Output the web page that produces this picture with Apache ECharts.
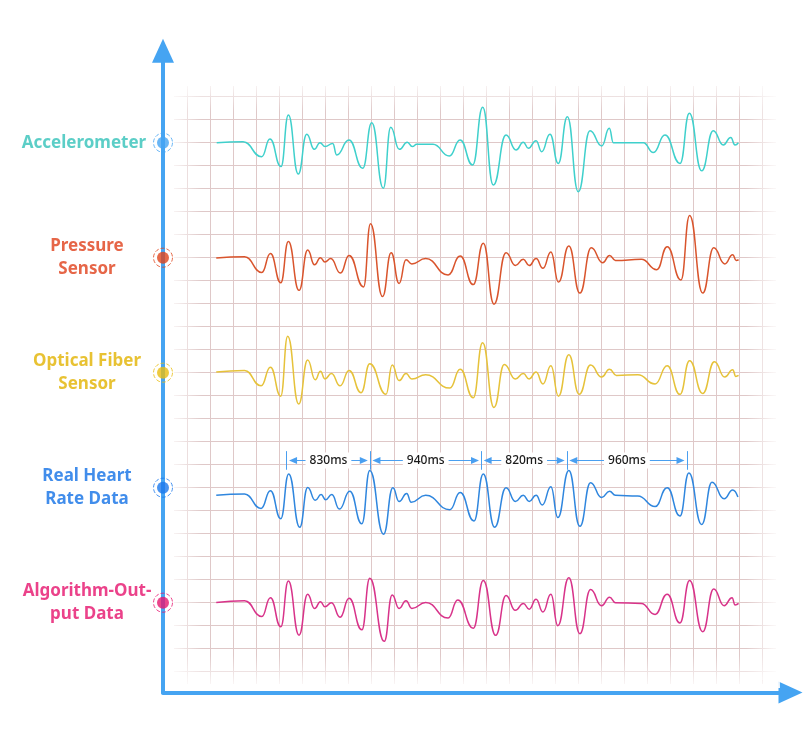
<!DOCTYPE html>
<html>
<head>
<meta charset="utf-8">
<title>Heart rate signal comparison</title>
<script src="https://cdn.jsdelivr.net/npm/echarts@6/dist/echarts.min.js"></script>
<style>
  html, body { margin: 0; padding: 0; background: #ffffff; }
  #chart { width: 806px; height: 742px; }
</style>
</head>
<body>
<div id="chart"></div>
<script>
// lane titles, top to bottom (line breaks as in the figure)
const laneNames = ['Accelerometer', 'Pressure\nSensor', 'Optical Fiber\nSensor', 'Real Heart\nRate Data', 'Algorithm-Out-\nput Data']

// [time ms, amplitude] - amplitude in 1/100 grid square, relative to the lane line
const accelerometer = [
  [254, 0], [483, 4], [645, -61], [717, 16], [813, -104], [877, 120], [963, -136], [1037, 37], [1103, -29],
  [1152, 0], [1196, -17], [1263, -3], [1297, -53], [1404, 12], [1524, -111], [1602, 87], [1703, -198],
  [1767, 67], [1842, -29], [1911, 2], [1955, -17], [1993, -7], [2135, -7], [2277, -58], [2370, 12],
  [2480, -97], [2567, 154], [2659, -184], [2770, 33], [2857, -32], [2920, 2], [2964, -24], [3031, 9],
  [3080, -39], [3152, 37], [3224, -90], [3303, 113], [3398, -213], [3500, 52], [3602, -14], [3668, 63],
  [3703, 0], [3964, 0], [4051, -43], [4152, 33], [4283, -90], [4364, 128], [4471, -122], [4572, 52],
  [4659, -10], [4724, 23], [4761, -10], [4790, 0]
]
const pressureSensor = [
  [250, -1], [496, 4], [646, -64], [721, 18], [811, -109], [877, 70], [970, -142], [1045, 33], [1105, -31],
  [1156, 0], [1195, -19], [1246, -4], [1330, -67], [1405, 10], [1531, -127], [1591, 148], [1696, -169],
  [1771, 22], [1840, -112], [1900, -9], [1951, -27], [2071, -4], [2266, -75], [2371, 7], [2485, -117],
  [2572, 63], [2665, -202], [2770, 22], [2851, -34], [2920, -7], [2971, -34], [3031, -4], [3091, -46],
  [3160, 25], [3226, -106], [3316, 51], [3412, -154], [3511, 43], [3610, -22], [3670, 10], [3721, -12],
  [3946, -7], [4081, -52], [4171, 48], [4291, -97], [4366, 183], [4480, -154], [4576, 43], [4672, -27],
  [4741, 13], [4771, -12], [4792, -9]
]
const opticalFiber = [
  [250, 3], [496, 10], [640, -57], [721, 24], [811, -102], [871, 159], [967, -136], [1045, 55], [1111, -31],
  [1156, 6], [1195, -27], [1252, -4], [1327, -57], [1405, 10], [1510, -87], [1585, 39], [1726, -94],
  [1780, 33], [1840, -34], [1900, -4], [1951, -27], [2071, -9], [2281, -67], [2371, 15], [2485, -109],
  [2566, 130], [2665, -151], [2755, 36], [2851, -27], [2920, -4], [2971, -27], [3031, 3], [3091, -49],
  [3160, 30], [3226, -102], [3316, 78], [3406, -94], [3505, 33], [3601, -19], [3670, 15], [3730, -12],
  [3916, -9], [4066, -49], [4171, 30], [4282, -94], [4366, 52], [4480, -90], [4582, 48], [4672, -19],
  [4741, 13], [4768, -16], [4792, -12]
]
const realHeartRate = [
  [250, -33], [496, -27], [640, -90], [721, -13], [811, -135], [880, 60], [976, -172], [1045, 1], [1111, -55],
  [1162, -30], [1201, -52], [1255, -30], [1321, -93], [1411, -15], [1516, -157], [1585, 75], [1705, -202],
  [1786, 0], [1840, -60], [1906, -25], [1945, -63], [2071, -33], [2281, -96], [2371, -21], [2491, -145],
  [2572, 60], [2671, -172], [2770, 0], [2851, -60], [2920, -33], [2971, -60], [3031, -33], [3085, -75],
  [3160, 4], [3220, -130], [3316, 75], [3412, -168], [3505, 22], [3601, -43], [3670, -15], [3721, -33],
  [3916, -36], [4066, -82], [4171, 0], [4282, -123], [4360, 64], [4471, -160], [4561, 24], [4666, -48],
  [4741, -10], [4786, -40]
]
const algorithmOutput = [
  [250, 1], [496, 9], [646, -60], [721, 22], [811, -105], [877, 94], [970, -141], [1045, 37], [1105, -25],
  [1156, 4], [1195, -18], [1252, 0], [1327, -63], [1405, 19], [1516, -118], [1585, 106], [1711, -168],
  [1780, 34], [1840, -25], [1900, 9], [1951, -25], [2071, 1], [2266, -67], [2350, 12], [2485, -111],
  [2572, 97], [2680, -142], [2770, 31], [2851, -33], [2920, -3], [2971, -28], [3031, 15], [3091, -40],
  [3160, 37], [3220, -100], [3316, 109], [3412, -135], [3505, 57], [3601, -13], [3670, 24], [3721, 0],
  [3946, -3], [4066, -51], [4171, 37], [4282, -88], [4366, 97], [4480, -126], [4576, 60], [4666, -13],
  [4735, 22], [4762, -10], [4792, -3]
]

// R peaks of the real heart rate trace and the intervals between them
const rPeaks = [863, 1588, 2555, 3300, 4342]
const rrLabels = ['830ms', '940ms', '820ms', '960ms']

const signals = [accelerometer, pressureSensor, opticalFiber, realHeartRate, algorithmOutput]

// each lane sits 5 grid squares below the previous one
const laneBase = [2300, 1800, 1300, 800, 300]
const lineColors = ['#3fd0cc', '#d9542c', '#e6c23a', '#2f86de', '#d8338a']
const labelColors = ['#33c2b9', '#e0401a', '#e2b300', '#1270e6', '#e6136d']
const dotColors = ['#45a4f2', '#e0451b', '#e8bd10', '#1a78ec', '#e6166f']
const axisBlue = '#45a4f2'
const gridColor = '#dfc8c8'
const annotBlue = '#4a9ff0'

const chart = echarts.init(document.getElementById('chart'))

const off = { show: false }
const bare = (extra) => Object.assign({ type: 'value', axisLine: off, axisTick: off, axisLabel: off, splitLine: off }, extra)

// white veil that fades the paper grid out towards its edges; gradient runs from opaque (x0,y0) to clear (x1,y1)
const fade = (x, y, w, h, x0, y0, x1, y1) => ({
  type: 'rect',
  z: 1,
  silent: true,
  shape: { x, y, width: w, height: h },
  style: {
    fill: {
      type: 'linear', x: x0, y: y0, x2: x1, y2: y1,
      colorStops: [
        { offset: 0, color: 'rgba(255,255,255,0.93)' },
        { offset: 1, color: 'rgba(255,255,255,0)' }
      ]
    }
  }
})

const arrowAxisLine = {
  show: true,
  onZero: false,
  symbol: ['none', 'triangle'],
  symbolSize: [22, 24],
  lineStyle: { color: axisBlue, width: 4 }
}

const rrTicks = rPeaks.map((t) => [
  { coord: [t, laneBase[3] + 78], symbol: 'none', label: { show: false } },
  { coord: [t, laneBase[3] + 159], symbol: 'none' }
])
const rrArrows = rrLabels.map((txt, i) => [
  { name: txt, coord: [rPeaks[i] + 55, laneBase[3] + 118] },
  { coord: [rPeaks[i + 1] - 55, laneBase[3] + 118] }
])

const option = {
  animation: false,
  backgroundColor: '#ffffff',
  textStyle: { fontFamily: 'Noto Sans' },
  grid: [
    { left: 163, right: 15.5, top: 50.7, bottom: 49.6 },   // arrow axes
    { left: 174, right: 30, top: 96.7, bottom: 70.3 },      // horizontal grid lines
    { left: 187.5, right: 43.5, top: 86, bottom: 58 },      // vertical grid lines
    { left: 187.5, right: 43.5, top: 96.7, bottom: 70.3 }   // signals
  ],
  xAxis: [
    bare({ gridIndex: 0, min: 0, max: 1, axisLine: arrowAxisLine }),
    bare({ gridIndex: 1, min: 0, max: 1 }),
    bare({ gridIndex: 2, min: 0, max: 25, interval: 1, splitLine: { show: true, lineStyle: { color: gridColor, width: 1 } } }),
    bare({ gridIndex: 3, min: 0, max: 5000 })
  ],
  yAxis: [
    bare({ gridIndex: 0, min: -90, max: 2700, axisLine: arrowAxisLine }),
    bare({ gridIndex: 1, min: 0, max: 25, interval: 1, splitLine: { show: true, lineStyle: { color: gridColor, width: 1 } } }),
    bare({ gridIndex: 2, min: 0, max: 1 }),
    bare({ gridIndex: 3, min: 0, max: 2500 })
  ],
  graphic: [
    fade(168, 80, 612, 32, 0, 0, 0, 1),
    fade(168, 655, 612, 33, 0, 1, 0, 0),
    fade(168, 80, 34, 608, 0, 0, 1, 0),
    fade(746, 80, 32, 600, 1, 0, 0, 0)
  ],
  series: [
    ...signals.map((sig, i) => {
      const s = {
        name: laneNames[i].replace('\n', ' '),
        type: 'line',
        xAxisIndex: 3,
        yAxisIndex: 3,
        data: sig.map(([t, a]) => [t, laneBase[i] + a]),
        smooth: 0.5,
        smoothMonotone: 'x',
        showSymbol: false,
        silent: true,
        z: 3,
        lineStyle: { color: lineColors[i], width: 1.5 }
      }
      if (i === 3) {
        s.markLine = {
          silent: true,
          animation: false,
          symbol: ['triangle', 'triangle'],
          symbolSize: [7, 8],
          lineStyle: { color: annotBlue, width: 1, type: 'solid' },
          label: {
            show: true,
            position: 'insideMiddle',
            formatter: '{b}',
            color: '#1a1a1a',
            fontSize: 12,
            fontWeight: 500,
            backgroundColor: '#ffffff',
            padding: [2, 4]
          },
          emphasis: { disabled: true },
          data: [...rrTicks, ...rrArrows]
        }
      }
      return s
    }),
    {
      type: 'scatter',
      xAxisIndex: 0,
      yAxisIndex: 0,
      clip: false,
      silent: true,
      z: 4,
      symbolSize: 19,
      itemStyle: { color: 'rgba(255,255,255,0)', borderWidth: 1, borderType: 'dashed' },
      data: laneBase.map((b, i) => ({ value: [0, b], itemStyle: { borderColor: dotColors[i] } }))
    },
    {
      type: 'scatter',
      xAxisIndex: 0,
      yAxisIndex: 0,
      clip: false,
      silent: true,
      z: 5,
      symbolSize: 12,
      data: laneBase.map((b, i) => ({
        value: [0, b],
        name: laneNames[i],
        itemStyle: { color: dotColors[i] },
        label: i === 0 ? { color: labelColors[i], distance: 73 } : { color: labelColors[i] }
      })),
      label: {
        show: true,
        position: 'left',
        distance: 70,
        align: 'center',
        formatter: '{b}',
        fontSize: 17,
        fontWeight: 'bold',
        lineHeight: 23
      }
    }
  ]
}

chart.setOption(option)
window.addEventListener('resize', () => chart.resize())
</script>
</body>
</html>
